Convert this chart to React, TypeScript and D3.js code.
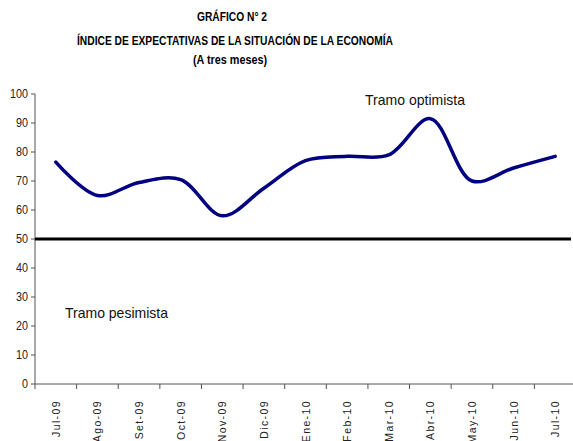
import React from "react";
import * as d3 from "d3";

const categories = ["Jul-09","Ago-09","Set-09","Oct-09","Nov-09","Dic-09","Ene-10","Feb-10","Mar-10","Abr-10","May-10","Jun-10","Jul-10"];
const values = [76.5, 65, 69.5, 70.5, 58, 67.5, 77, 78.5, 79, 91.5, 70, 74.5, 78.5];
const yTicks = [0, 10, 20, 30, 40, 50, 60, 70, 80, 90, 100];
const threshold = 50;
const titleLines = ["GRÁFICO N° 2", "ÍNDICE DE EXPECTATIVAS DE LA SITUACIÓN DE LA ECONOMÍA", "(A tres meses)"];

const W = 573, H = 441;
const left = 35, right = 576, top = 94, bottom = 384;
const SANS = "'Liberation Sans', Arial, sans-serif";

export default function App() {
  const x = d3.scaleBand<string>().domain(categories).range([left, right]).padding(0);
  const y = d3.scaleLinear().domain([0, 100]).range([bottom, top]);
  const cx = (c: string) => (x(c) ?? 0) + x.bandwidth() / 2;
  const line = d3.line<number>()
    .x((_, i) => cx(categories[i]))
    .y((v) => y(v))
    .curve(d3.curveCatmullRom.alpha(0.5));
  return (
    <svg width={W} height={H} style={{ position: "absolute", left: 0, top: 0, background: "#fff" }}>
      <g fontFamily={SANS} fontWeight="bold" fontSize={12.5} fill="#000" lengthAdjust="spacingAndGlyphs">
        <text x={197} y={21} textLength={70} lengthAdjust="spacingAndGlyphs">{titleLines[0]}</text>
        <text x={77} y={45} textLength={316} lengthAdjust="spacingAndGlyphs">{titleLines[1]}</text>
        <text x={193} y={64} textLength={74} lengthAdjust="spacingAndGlyphs">{titleLines[2]}</text>
      </g>
      {/* y axis */}
      <line x1={left} x2={left} y1={top} y2={bottom} stroke="#555" strokeWidth={1} />
      {yTicks.map((t) => (
        <g key={t}>
          <line x1={left - 4} x2={left} y1={y(t)} y2={y(t)} stroke="#555" />
          <text x={28} y={y(t) + 4} textAnchor="end" fontFamily={SANS} fontSize={12} fill="#222"
            textLength={String(t).length * 6} lengthAdjust="spacingAndGlyphs">{t}</text>
        </g>
      ))}
      {/* x axis */}
      <line x1={left} x2={right} y1={bottom} y2={bottom} stroke="#555" />
      {categories.map((c) => (
        <g key={c}>
          <line x1={x(c)!} x2={x(c)!} y1={bottom} y2={bottom + 5} stroke="#555" />
          <text
            transform={`translate(${cx(c) + 4},${400}) rotate(-90)`}
            textAnchor="end"
            fontFamily={SANS}
            fontSize={10.5}
            letterSpacing={1.4}
            fill="#222"
          >{c}</text>
        </g>
      ))}
      {/* threshold line */}
      <line x1={left} x2={571} y1={y(threshold)} y2={y(threshold)} stroke="#000" strokeWidth={3} />
      {/* series */}
      <path d={line(values) ?? ""} fill="none" stroke="#000080" strokeWidth={3.5} strokeLinecap="round" />
      <text x={365} y={105} fontFamily={SANS} fontSize={14.5} fill="#111" textLength={100} lengthAdjust="spacingAndGlyphs">Tramo optimista</text>
      <text x={65} y={318} fontFamily={SANS} fontSize={14.5} fill="#111" textLength={103} lengthAdjust="spacingAndGlyphs">Tramo pesimista</text>
    </svg>
  );
}
